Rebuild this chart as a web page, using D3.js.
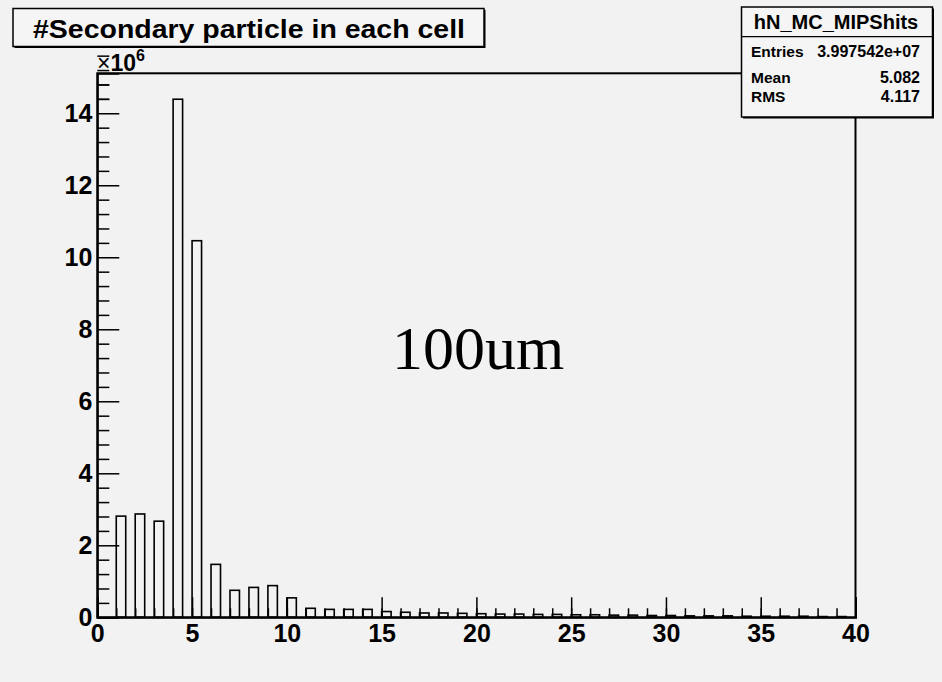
<!DOCTYPE html>
<html>
<head>
<meta charset="utf-8">
<script src="https://cdn.jsdelivr.net/npm/d3@7"></script>
<style>
  body { margin: 0; background: #f2f2f2; }
  text { font-family: "Liberation Sans", Arial, Helvetica, sans-serif; }
</style>
</head>
<body>
<svg id="chart" width="942" height="682"></svg>
<script>
'use strict';

// bin contents (x10^6), one per unit bin starting at 0
var counts = [0, 2.81, 2.87, 2.67, 14.39, 10.46, 1.47, 0.75, 0.83, 0.88,
  0.54, 0.25, 0.22, 0.22, 0.22, 0.16, 0.14, 0.12, 0.12, 0.11,
  0.10, 0.09, 0.09, 0.08, 0.08, 0.07, 0.07, 0.06, 0.06, 0.05,
  0.05, 0.04, 0.04, 0.04, 0.03, 0.03, 0.03, 0.03, 0.02, 0.02];
var xMajor = [0, 5, 10, 15, 20, 25, 30, 35, 40];
var yMajor = [0, 2, 4, 6, 8, 10, 12, 14];
var titleText = '#Secondary particle in each cell';
var statsName = 'hN_MC_MIPShits';
var statsLabels = ['Entries', 'Mean', 'RMS'];
var statsValues = ['3.997542e+07', '5.082', '4.117'];
var xMax = 40, yMax = 15.11;

var svg = d3.select('#chart'),
  margin = {top: 73.3, right: 86.5, bottom: 64.7, left: 97.3},
  width = +svg.attr('width') - margin.left - margin.right,
  height = +svg.attr('height') - margin.top - margin.bottom;

svg.append('rect').attr('width', 942).attr('height', 682).attr('fill', '#f2f2f2');

var g = svg.append('g').attr('transform', 'translate(' + margin.left + ',' + margin.top + ')');

var x = d3.scaleLinear().domain([0, xMax]).range([0, width]);
var y = d3.scaleLinear().domain([0, yMax]).range([height, 0]);

// frame
g.append('rect')
  .attr('width', width).attr('height', height)
  .attr('fill', '#f2f2f2').attr('stroke', '#000').attr('stroke-width', 2);

// bars (ROOT bar style: left half of each bin)
g.selectAll('.bar')
  .data(counts.map(function (v, i) { return {x0: i, v: v}; }).filter(function (d) { return d.v > 0; }))
  .enter().append('rect')
  .attr('class', 'bar')
  .attr('x', function (d) { return x(d.x0); })
  .attr('width', function (d) { return x(d.x0 + 0.5) - x(d.x0); })
  .attr('y', function (d) { return y(d.v); })
  .attr('height', function (d) { return y(0) - y(d.v); })
  .attr('fill', 'none')
  .attr('stroke', '#000')
  .attr('stroke-width', 1.6);

// x minor ticks every unit
var xMinor = counts.map(function (v, i) { return i; });
g.append('g')
  .attr('transform', 'translate(0,' + height + ')')
  .call(d3.axisBottom(x).tickValues(xMinor).tickSize(-9).tickFormat(''))
  .call(function (a) { a.select('.domain').remove(); a.selectAll('line').attr('stroke-width', 1.5); });

// x major ticks + labels
var xa = g.append('g')
  .attr('transform', 'translate(0,' + height + ')')
  .call(d3.axisBottom(x).tickValues(xMajor).tickSize(-20).tickPadding(7).tickFormat(d3.format('d')));
xa.select('.domain').attr('stroke-width', 2);
xa.selectAll('line').attr('stroke-width', 1.5);
xa.selectAll('text')
  .attr('font-size', 25).attr('font-weight', 'bold')
  .style('font-family', '"Liberation Sans", Arial, sans-serif');

// y minor ticks
var yMinor = [];
yMajor.forEach(function (v) { [0.4, 0.8, 1.2, 1.6].forEach(function (s) { yMinor.push(v + s); }); });
yMinor.push(14.4, 14.8);
g.append('g')
  .call(d3.axisLeft(y).tickValues(yMinor).tickSize(-12).tickFormat(''))
  .call(function (a) { a.select('.domain').remove(); a.selectAll('line').attr('stroke-width', 1.5); });

// y major ticks + labels
var ya = g.append('g')
  .call(d3.axisLeft(y).tickValues(yMajor).tickSize(-22).tickPadding(5).tickFormat(d3.format('d')));
ya.select('.domain').attr('stroke-width', 2);
ya.selectAll('line').attr('stroke-width', 1.5);
ya.selectAll('text')
  .attr('font-size', 25).attr('font-weight', 'bold')
  .style('font-family', '"Liberation Sans", Arial, sans-serif');

// exponent label
var ex = svg.append('text').attr('x', 97).attr('y', 71)
  .attr('font-size', 23).attr('font-weight', 'bold');
ex.append('tspan').attr('font-weight', 'normal').text('\u00d7');
ex.append('tspan').text('10');
ex.append('tspan').attr('dy', -10).attr('font-size', 16).text('6');

// title box
svg.append('rect').attr('x', 14.5).attr('y', 10).attr('width', 471).attr('height', 38).attr('fill', '#000');
svg.append('rect').attr('x', 13).attr('y', 8.5).attr('width', 471).attr('height', 38)
  .attr('fill', '#f5f5f5').attr('stroke', '#000').attr('stroke-width', 1.5);
svg.append('text').attr('x', 33).attr('y', 37.5)
  .attr('textLength', 432).attr('lengthAdjust', 'spacingAndGlyphs')
  .attr('font-size', 25).attr('font-weight', 'bold').text(titleText);

// stats box
var sb = svg.append('g');
sb.append('rect').attr('x', 743).attr('y', 8.5).attr('width', 191).attr('height', 110).attr('fill', '#000');
sb.append('rect').attr('x', 741.5).attr('y', 7).attr('width', 191).attr('height', 110)
  .attr('fill', '#f5f5f5').attr('stroke', '#000').attr('stroke-width', 1.5);
sb.append('line').attr('x1', 741.5).attr('x2', 932.5).attr('y1', 36.7).attr('y2', 36.7)
  .attr('stroke', '#000').attr('stroke-width', 1.2);
sb.append('text').attr('x', 836).attr('y', 29).attr('text-anchor', 'middle')
  .attr('font-size', 20).attr('font-weight', 'bold').text(statsName);
var rowY = [56.5, 83, 101.5];
sb.selectAll('.slab').data(statsLabels).enter().append('text')
  .attr('x', 751).attr('y', function (d, i) { return rowY[i]; })
  .attr('font-size', 15.5).attr('font-weight', 'bold').text(function (d) { return d; });
sb.selectAll('.sval').data(statsValues).enter().append('text')
  .attr('x', 920).attr('y', function (d, i) { return rowY[i]; }).attr('text-anchor', 'end')
  .attr('font-size', 16).attr('font-weight', 'bold').text(function (d) { return d; });

// annotation
svg.append('text').attr('x', 392).attr('y', 369)
  .style('font-family', '"Liberation Serif", "Times New Roman", serif')
  .attr('font-size', 62).text('100um');
</script>
</body>
</html>
